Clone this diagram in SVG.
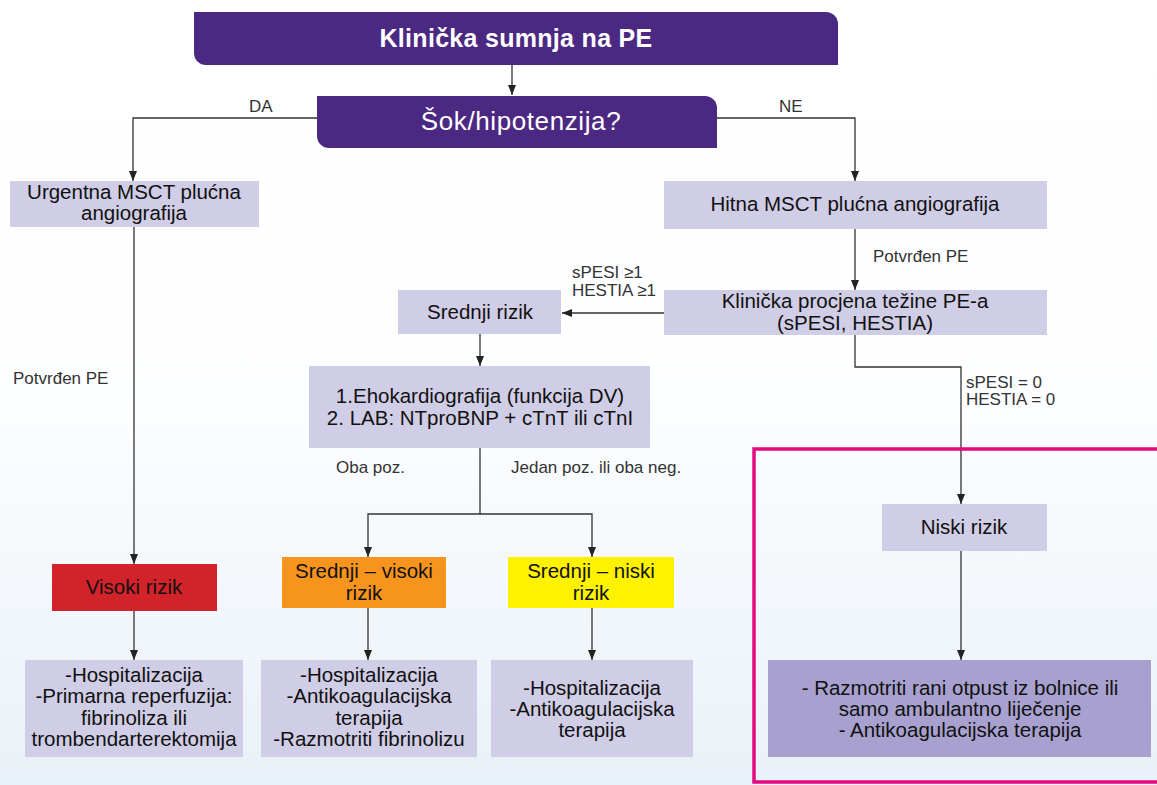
<svg xmlns="http://www.w3.org/2000/svg" width="1157" height="785" viewBox="0 0 1157 785">
<defs>
<linearGradient id="bg" x1="0" y1="0" x2="0" y2="1">
<stop offset="0" stop-color="#ffffff"/>
<stop offset="0.5" stop-color="#fdfeff"/>
<stop offset="1" stop-color="#e9f1f8"/>
</linearGradient>
<marker id="arr" markerUnits="userSpaceOnUse" markerWidth="10" markerHeight="10" viewBox="0 0 10 10" refX="10" refY="5" orient="auto">
<path d="M0,1 L10,5 L0,9 Z" fill="#222"/>
</marker>
<style>
.c{fill:none;stroke:#333;stroke-width:1.3}
.t{font-family:"Liberation Sans",Arial,sans-serif;font-size:20.5px;fill:#111;text-anchor:middle}
.l{font-family:"Liberation Sans",Arial,sans-serif;font-size:17px;fill:#333}
.lav{fill:#d0cde6}
.pur{fill:#4b2882}
.w{font-family:"Liberation Sans",Arial,sans-serif;fill:#fff;text-anchor:middle}
</style>
</defs>
<rect x="0" y="0" width="1157" height="785" fill="url(#bg)"/>

<g id="connectors">
<line class="c" x1="512" y1="65" x2="512" y2="95" marker-end="url(#arr)"/>
<polyline class="c" points="318,118 133,118 133,181" marker-end="url(#arr)"/>
<polyline class="c" points="717,118 855,118 855,181" marker-end="url(#arr)"/>
<line class="c" x1="134" y1="227" x2="134" y2="564" marker-end="url(#arr)"/>
<line class="c" x1="855" y1="229" x2="855" y2="290" marker-end="url(#arr)"/>
<line class="c" x1="664" y1="313" x2="562" y2="313" marker-end="url(#arr)"/>
<line class="c" x1="480" y1="334" x2="480" y2="366" marker-end="url(#arr)"/>
<polyline class="c" points="480,448 480,514 368,514 368,557" marker-end="url(#arr)"/>
<polyline class="c" points="480,514 592,514 592,557" marker-end="url(#arr)"/>
<polyline class="c" points="855,335 855,367 961,367 961,504" marker-end="url(#arr)"/>
<line class="c" x1="134" y1="611" x2="134" y2="660" marker-end="url(#arr)"/>
<line class="c" x1="368" y1="608" x2="368" y2="660" marker-end="url(#arr)"/>
<line class="c" x1="592" y1="608" x2="592" y2="660" marker-end="url(#arr)"/>
<line class="c" x1="961" y1="551" x2="961" y2="660" marker-end="url(#arr)"/>
<text class="l" x="249" y="112">DA</text>
<text class="l" x="779" y="112">NE</text>
<text class="l" x="873" y="262">Potvrđen PE</text>
<text class="l" x="572" y="278">sPESI ≥1</text>
<text class="l" x="572" y="296">HESTIA ≥1</text>
<text class="l" x="13" y="384">Potvrđen PE</text>
<text class="l" x="966" y="388">sPESI = 0</text>
<text class="l" x="966" y="405">HESTIA = 0</text>
<text class="l" x="336" y="473">Oba poz.</text>
<text class="l" x="511" y="473">Jedan poz. ili oba neg.</text>
</g>

<g id="n-klinicka-sumnja">
<path class="pur" d="M194,12 H826 A12,12 0 0 1 838,24 V65 H206 A12,12 0 0 1 194,53 Z"/>
<text class="w" x="516" y="47" font-size="25" font-weight="bold" letter-spacing="0.3">Klinička sumnja na PE</text>
</g>

<g id="n-sok">
<path class="pur" d="M317,96 H705 A12,12 0 0 1 717,108 V148 H329 A12,12 0 0 1 317,136 Z"/>
<text class="w" x="521" y="130" font-size="26" letter-spacing="0.6">Šok/hipotenzija?</text>
</g>

<g id="n-urgentna">
<rect class="lav" x="10" y="181" width="249" height="46"/>
<text class="t" x="134" y="199">Urgentna MSCT plućna</text>
<text class="t" x="134" y="220">angiografija</text>
</g>

<g id="n-hitna">
<rect class="lav" x="664" y="181" width="383" height="48"/>
<text class="t" x="855" y="211">Hitna MSCT plućna angiografija</text>
</g>

<g id="n-procjena">
<rect class="lav" x="664" y="290" width="383" height="45"/>
<text class="t" x="855" y="308">Klinička procjena težine PE-a</text>
<text class="t" x="855" y="330">(sPESI, HESTIA)</text>
</g>

<g id="n-srednji-rizik">
<rect class="lav" x="398" y="290" width="163" height="44"/>
<text class="t" x="480" y="319">Srednji rizik</text>
</g>

<g id="n-eho">
<rect class="lav" x="309" y="366" width="341" height="82"/>
<text class="t" x="480" y="403">1.Ehokardiografija (funkcija DV)</text>
<text class="t" x="480" y="425">2. LAB: NTproBNP + cTnT ili cTnI</text>
</g>

<g id="n-visoki">
<rect x="52" y="564" width="165" height="47" fill="#d2232a"/>
<text class="t" x="134" y="594">Visoki rizik</text>
</g>

<g id="n-srednji-visoki">
<rect x="282" y="557" width="164" height="51" fill="#f7941d"/>
<text class="t" x="364" y="578">Srednji – visoki</text>
<text class="t" x="364" y="600">rizik</text>
</g>

<g id="n-srednji-niski">
<rect x="508" y="557" width="166" height="51" fill="#fff200"/>
<text class="t" x="591" y="578">Srednji – niski</text>
<text class="t" x="591" y="600">rizik</text>
</g>

<g id="n-niski">
<rect class="lav" x="882" y="504" width="165" height="47"/>
<text class="t" x="964" y="534">Niski rizik</text>
</g>

<g id="n-tx-visoki">
<rect class="lav" x="25" y="660" width="218" height="97"/>
<text class="t" x="134" y="682">-Hospitalizacija</text>
<text class="t" x="134" y="703">-Primarna reperfuzija:</text>
<text class="t" x="134" y="725">fibrinoliza ili</text>
<text class="t" x="134" y="746">trombendarterektomija</text>
</g>

<g id="n-tx-srednji-visoki">
<rect class="lav" x="261" y="660" width="216" height="97"/>
<text class="t" x="369" y="682">-Hospitalizacija</text>
<text class="t" x="369" y="703">-Antikoagulacijska</text>
<text class="t" x="369" y="725">terapija</text>
<text class="t" x="369" y="746">-Razmotriti fibrinolizu</text>
</g>

<g id="n-tx-srednji-niski">
<rect class="lav" x="491" y="660" width="202" height="97"/>
<text class="t" x="592" y="695">-Hospitalizacija</text>
<text class="t" x="592" y="716">-Antikoagulacijska</text>
<text class="t" x="592" y="737">terapija</text>
</g>

<g id="n-tx-niski">
<rect x="768" y="660" width="383" height="97" fill="#a8a1cf"/>
<text class="t" x="960" y="695">- Razmotriti rani otpust iz bolnice ili</text>
<text class="t" x="960" y="716">samo ambulantno liječenje</text>
<text class="t" x="960" y="737">- Antikoagulacijska terapija</text>
</g>

<g id="highlight">
<rect x="754" y="449" width="410" height="333" fill="none" stroke="#e5097f" stroke-width="3.5"/>
</g>
</svg>
